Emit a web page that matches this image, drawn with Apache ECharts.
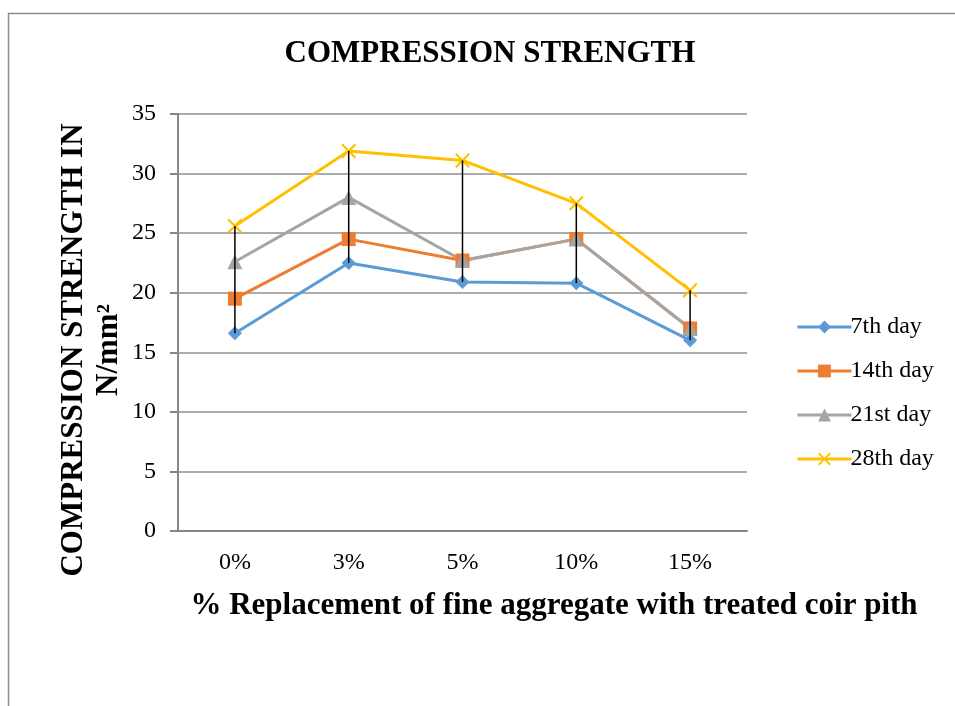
<!DOCTYPE html>
<html>
<head>
<meta charset="utf-8">
<script src="https://cdn.jsdelivr.net/npm/echarts@6/dist/echarts.min.js"></script>
<style>
html,body{margin:0;padding:0;background:#fff;}
#main{width:955px;height:706px;}
</style>
</head>
<body>
<div id="main"></div>
<script>
var categories = ['0%', '3%', '5%', '10%', '15%'];
var day7  = [16.6, 22.5, 20.9, 20.8, 16.0];
var day14 = [19.5, 24.5, 22.7, 24.5, 17.0];
var day21 = [22.6, 28.0, 22.7, 24.5, 17.0];
var day28 = [25.6, 31.9, 31.1, 27.5, 20.2];
var yTicks = [0, 5, 10, 15, 20, 25, 30, 35];
var seriesNames = ['7th day', '14th day', '21st day', '28th day'];

var allSeries = [day7, day14, day21, day28];
var hiLo = categories.map(function (c, i) {
  var vals = allSeries.map(function (s) { return s[i]; });
  return [i, Math.min.apply(null, vals), Math.max.apply(null, vals)];
});

var FONT = '"Liberation Serif", "Times New Roman", serif';
var xPath = 'path://M0,1 L1,0 L5,4 L9,0 L10,1 L6,5 L10,9 L9,10 L5,6 L1,10 L0,9 L4,5 Z';

var chart = echarts.init(document.getElementById('main'), null, {renderer: 'canvas'});
chart.setOption({
  animation: false,
  backgroundColor: '#fff',
  textStyle: {fontFamily: FONT},
  title: {
    text: 'COMPRESSION STRENGTH',
    left: 485, top: 33, textAlign: 'center',
    textStyle: {fontFamily: FONT, fontWeight: 'bold', fontSize: 31, color: '#000'}
  },
  grid: {left: 178, right: 208, top: 114, bottom: 175, containLabel: false},
  legend: {
    orient: 'vertical', left: 791, top: 310,
    itemWidth: 54, itemHeight: 16, itemGap: 20,
    data: seriesNames,
    lineStyle: {width: 3},
    textStyle: {fontFamily: FONT, fontSize: 24, color: '#000', padding: [0, 0, 0, -6]}
  },
  xAxis: {
    type: 'category', data: categories, boundaryGap: true,
    axisLine: {lineStyle: {color: '#868686', width: 2}},
    axisTick: {show: false},
    axisLabel: {fontFamily: FONT, fontSize: 24, color: '#000', margin: 20}
  },
  yAxis: {
    type: 'value', min: 0, max: 35, interval: 5,
    axisLine: {show: true, lineStyle: {color: '#868686', width: 2}},
    axisTick: {show: true, length: 8, lineStyle: {color: '#868686', width: 2}},
    axisLabel: {fontFamily: FONT, fontSize: 24, color: '#000', margin: 22},
    splitLine: {lineStyle: {color: '#909090', width: 1.5}}
  },
  graphic: [
    {type: 'rect', left: 6, top: 11, shape: {width: 1000, height: 1000},
     style: {fill: 'none', stroke: '#8c8c8c', lineWidth: 1.5}, silent: true},
    {type: 'text', x: 91, y: 350, rotation: Math.PI / 2,
     style: {text: 'COMPRESSION STRENGTH IN\nN/mm²', font: 'bold 31px ' + FONT,
             fill: '#000', align: 'center', verticalAlign: 'middle', lineHeight: 35}},
    {type: 'text', x: 554, y: 606,
     style: {text: '% Replacement of fine aggregate with treated coir pith', font: 'bold 31px ' + FONT,
             fill: '#000', align: 'center', verticalAlign: 'middle'}}
  ],
  series: [
    {name: '7th day', type: 'line', data: day7, symbol: 'diamond', symbolSize: 14,
     lineStyle: {color: '#5B9BD5', width: 3}, itemStyle: {color: '#5B9BD5'}, z: 3},
    {name: '14th day', type: 'line', data: day14, symbol: 'rect', symbolSize: 14,
     lineStyle: {color: '#ED7D31', width: 3}, itemStyle: {color: '#ED7D31'}, z: 3},
    {name: '21st day', type: 'line', data: day21, symbol: 'triangle', symbolSize: 15,
     lineStyle: {color: '#A5A5A5', width: 3}, itemStyle: {color: '#A5A5A5'}, z: 3},
    {name: '28th day', type: 'line', data: day28, symbol: xPath, symbolSize: 15,
     lineStyle: {color: '#FFC000', width: 3}, itemStyle: {color: '#FFC000'}, z: 3},
    {name: 'hilo', type: 'custom', data: hiLo, z: 4, silent: true,
     renderItem: function (params, api) {
       var p1 = api.coord([api.value(0), api.value(1)]);
       var p2 = api.coord([api.value(0), api.value(2)]);
       return {type: 'line', shape: {x1: p1[0], y1: p1[1], x2: p2[0], y2: p2[1]},
               style: {stroke: '#000', lineWidth: 1.5}};
     }}
  ]
});
</script>
</body>
</html>
